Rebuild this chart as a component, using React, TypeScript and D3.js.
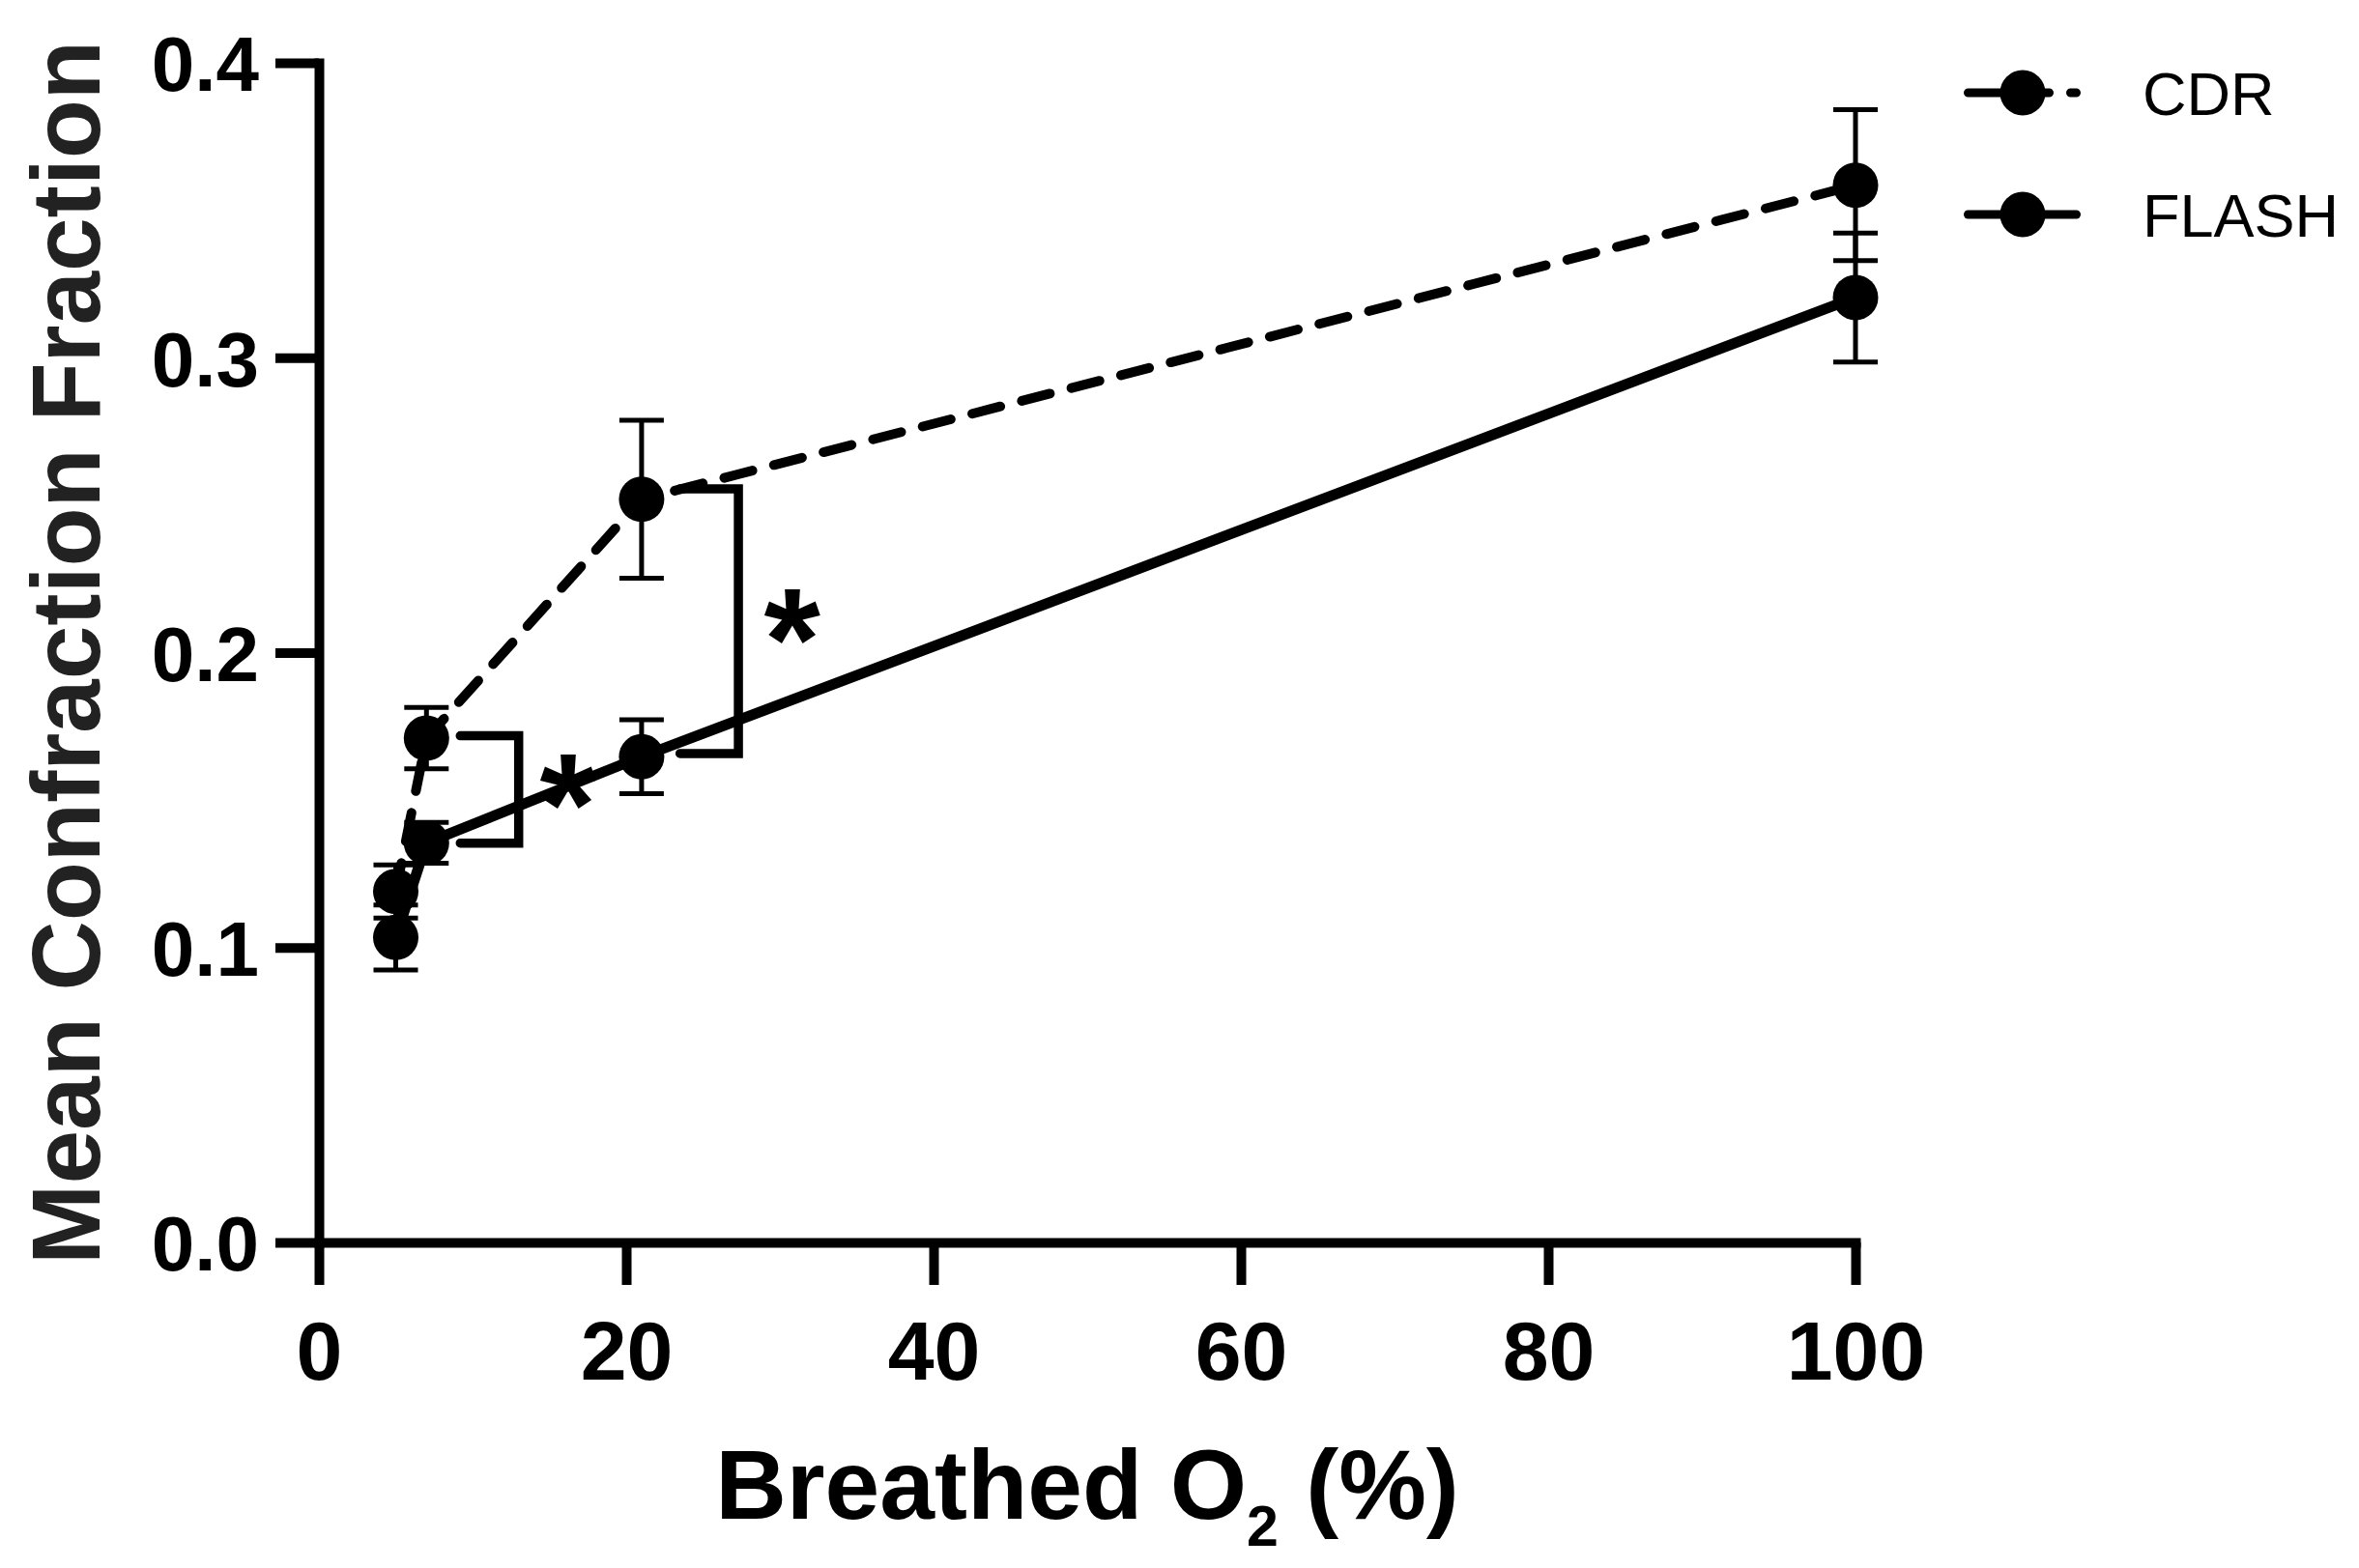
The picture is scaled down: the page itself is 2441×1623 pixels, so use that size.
import React, { useEffect, useRef } from 'react';
import * as d3 from 'd3';

const WIDTH = 2441;
const HEIGHT = 1623;
const FONT = '"Liberation Sans", Arial, Helvetica, sans-serif';

// breathed O2 (%) and mean confraction fraction +/- SEM
const o2Levels = [5, 7, 21, 100];
const cdrMean = [0.119, 0.171, 0.252, 0.3585];
const cdrSem = [0.009, 0.0104, 0.0268, 0.0256];
const flashMean = [0.1034, 0.1355, 0.1647, 0.3204];
const flashSem = [0.011, 0.0069, 0.0125, 0.0219];

const xTicks = [0, 20, 40, 60, 80, 100];
const yTicks = [0, 0.1, 0.2, 0.3, 0.4];

// significance brackets (data units)
const bracketX0 = [9.2, 23.5];
const bracketX1 = [13, 27.3];
const bracketTop = [0.1718, 0.2555];
const bracketBottom = [0.1354, 0.1658];
const starX = [16.2, 30.8];
const starY = [0.155, 0.211];

const x = d3.scaleLinear().domain([0, 100]).range([330, 1920]);
const y = d3.scaleLinear().domain([0, 0.4]).range([1286, 65]);

const seriesList = [
  { name: 'CDR', mean: cdrMean, sem: cdrSem, dash: '30 23' },
  { name: 'FLASH', mean: flashMean, sem: flashSem, dash: undefined as string | undefined },
];

const line = d3
  .line<number>()
  .x((_, i) => x(o2Levels[i]))
  .y((d) => y(d));

const App: React.FC = () => {
  const xAxisRef = useRef<SVGGElement>(null);
  const yAxisRef = useRef<SVGGElement>(null);

  useEffect(() => {
    document.body.style.margin = '0';

    const gx = d3.select(xAxisRef.current!);
    gx.selectAll('*').remove();
    gx.call(
      d3
        .axisBottom(x)
        .tickValues(xTicks)
        .tickSize(44)
        .tickSizeOuter(0)
        .tickPadding(37)
        .tickFormat(d3.format('d'))
    );

    const gy = d3.select(yAxisRef.current!);
    gy.selectAll('*').remove();
    gy.call(
      d3
        .axisLeft(y)
        .tickValues(yTicks)
        .tickSize(45)
        .tickSizeOuter(0)
        .tickPadding(17)
        .tickFormat(d3.format('.1f'))
    );

    [gx, gy].forEach((g) => {
      g.attr('font-family', null).attr('font-size', null);
      g.select('.domain')
        .attr('stroke', '#000')
        .attr('stroke-width', 10)
        .attr('stroke-linecap', 'square');
      g.selectAll('.tick line').attr('stroke', '#000').attr('stroke-width', 10);
      g.selectAll('.tick text')
        .attr('fill', '#000')
        .style('font-family', FONT)
        .style('font-weight', 'bold');
    });
    gx.selectAll('.tick text').style('font-size', '86px');
    gy.selectAll('.tick text').style('font-size', '80px').attr('dy', '0.36em');
  }, []);

  return (
    <svg
      width={WIDTH}
      height={HEIGHT}
      style={{ display: 'block', position: 'absolute', left: 0, top: 0, background: '#fff' }}
    >
      <g ref={yAxisRef} transform={`translate(${x(0)},0)`} />
      <g ref={xAxisRef} transform={`translate(0,${y(0)})`} />

      {/* Lines */}
      {seriesList.map((s) => (
        <path
          key={s.name + '-line'}
          d={line(s.mean) ?? ''}
          fill="none"
          stroke="#000"
          strokeWidth={s.dash ? 10 : 11}
          strokeDasharray={s.dash}
          strokeLinecap={s.dash ? 'round' : 'butt'}
        />
      ))}

      {/* Error bars */}
      {seriesList.map((s) =>
        s.mean.map((m, i) => {
          const cx = x(o2Levels[i]);
          const top = y(m + s.sem[i]);
          const bot = y(m - s.sem[i]);
          return (
            <g key={`${s.name}-err-${i}`} stroke="#000" strokeWidth={5}>
              <line x1={cx} x2={cx} y1={top} y2={bot} />
              <line x1={cx - 23} x2={cx + 23} y1={top} y2={top} />
              <line x1={cx - 23} x2={cx + 23} y1={bot} y2={bot} />
            </g>
          );
        })
      )}

      {/* Markers */}
      {seriesList.map((s) =>
        s.mean.map((m, i) => (
          <circle key={`${s.name}-pt-${i}`} cx={x(o2Levels[i])} cy={y(m)} r={23.5} fill="#000" />
        ))
      )}

      {/* Significance brackets */}
      {bracketX0.map((b, i) => (
        <g key={'br' + i}>
          <path
            d={`M${x(b)},${y(bracketTop[i])}H${x(bracketX1[i])}V${y(bracketBottom[i])}H${x(b)}`}
            fill="none"
            stroke="#000"
            strokeWidth={9.5}
            strokeLinecap="round"
            strokeLinejoin="miter"
          />
          <text
            x={x(starX[i])}
            y={y(starY[i])}
            dy="0.48em"
            textAnchor="middle"
            style={{ font: `bold 150px ${FONT}` }}
          >
            *
          </text>
        </g>
      ))}

      {/* Axis titles */}
      <text
        x={(x(0) + x(100)) / 2}
        y={1572}
        textAnchor="middle"
        style={{ font: `bold 102px ${FONT}` }}
      >
        Breathed O
        <tspan dy={28} style={{ fontSize: '59px' }}>
          2
        </tspan>
        <tspan dy={-28}> (%)</tspan>
      </text>
      <text
        transform={`translate(103,${(y(0) + y(0.4)) / 2}) rotate(-90)`}
        textAnchor="middle"
        fill="#222"
        style={{ font: `bold 100px ${FONT}` }}
      >
        Mean Confraction Fraction
      </text>

      {/* Legend */}
      <g>
        <path
          d="M2036.5,96H2148.5"
          stroke="#000"
          strokeWidth={9}
          strokeLinecap="round"
          strokeDasharray="84 22 6 40"
        />
        <circle cx={2093} cy={96} r={23.5} fill="#000" />
        <text x={2217} y={96} dy="0.36em" style={{ font: `63px ${FONT}` }}>
          CDR
        </text>
        <path d="M2036.5,222H2148.5" stroke="#000" strokeWidth={9} strokeLinecap="round" />
        <circle cx={2093} cy={222} r={23.5} fill="#000" />
        <text x={2217} y={222} dy="0.36em" style={{ font: `63px ${FONT}` }}>
          FLASH
        </text>
      </g>
    </svg>
  );
};

export default App;
